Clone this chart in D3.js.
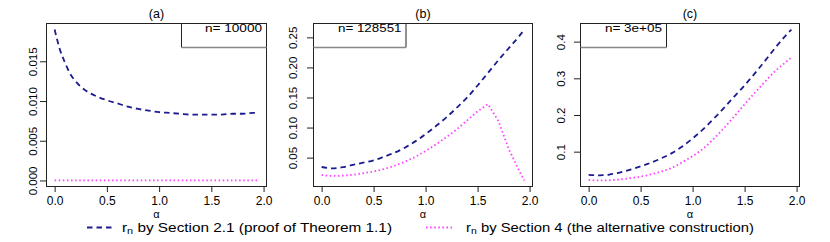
<!DOCTYPE html>
<html><head><meta charset="utf-8">
<script src="https://cdn.jsdelivr.net/npm/d3@7"></script>
<style>
html,body{margin:0;padding:0;background:#fff;}
svg text{font-family:"Liberation Sans",Arial,Helvetica,sans-serif;fill:#000;}
</style></head>
<body><svg id="chart" width="830" height="242"></svg>
<script>
// ---- data ----
const alpha = [0,0.05,0.1,0.15,0.2,0.25,0.3,0.4,0.5,0.6,0.7,0.8,0.9,1.0,1.1,1.2,1.3,1.4,1.5,1.6,1.7,1.8,1.9,1.95];
const panelTitles = ["(a)","(b)","(c)"];
const panelN = ["n= 10000","n= 128551","n= 3e+05"];
const aSection21 = [0.0190,0.0165,0.0148,0.0134,0.0125,0.0118,0.0113,0.0106,0.0101,0.0097,0.0093,0.0090,0.0088,0.0086,0.0085,0.0084,0.0083,0.0083,0.0083,0.0083,0.0084,0.0084,0.0085,0.0085];
const aSection4  = [0,0,0,0,0,0,0,0,0,0,0,0,0,0,0,0,0,0,0,0,0,0,0,0];
const bSection21 = [0.0344,0.0330,0.0322,0.0328,0.0340,0.0358,0.0378,0.0415,0.0455,0.0515,0.0580,0.0665,0.0770,0.0890,0.1025,0.1170,0.1330,0.1500,0.1700,0.1910,0.2120,0.2320,0.2520,0.2630];
const bSection4  = [0.0212,0.0200,0.0196,0.0195,0.0200,0.0207,0.0215,0.0240,0.0268,0.0310,0.0365,0.0430,0.0510,0.0610,0.0720,0.0840,0.0970,0.1120,0.1270,0.1390,0.1110,0.0640,0.0280,0.0120];
const cSection21 = [0.037,0.036,0.0355,0.036,0.0375,0.040,0.043,0.051,0.060,0.070,0.082,0.096,0.114,0.136,0.161,0.189,0.219,0.250,0.281,0.314,0.349,0.385,0.418,0.433];
const cSection4  = [0.023,0.022,0.0215,0.0215,0.022,0.023,0.024,0.028,0.032,0.038,0.046,0.056,0.071,0.088,0.108,0.134,0.164,0.196,0.229,0.261,0.292,0.321,0.345,0.357];
const xTicks = [0,0.5,1,1.5,2];
const yTicksA = [0,0.005,0.010,0.015];
const yTicksB = [0.05,0.10,0.15,0.20,0.25];
const yTicksC = [0.1,0.2,0.3,0.4];
const yTickFmt = [d3.format(".3f"), d3.format(".2f"), d3.format(".1f")];
const legendLabels = ["by Section 2.1 (proof of Theorem 1.1)","by Section 4 (the alternative construction)"];

// ---- layout ----
const svg = d3.select("#chart");
const panels = [
  {left:46.5, right:266.5, s21:aSection21, s4:aSection4, yt:yTicksA, legendRight:true, legW:85, yLabX:33},
  {left:313.5, right:532.5, s21:bSection21, s4:bSection4, yt:yTicksB, legendRight:false, legW:92.5, yLabX:292.5},
  {left:580.5, right:799.5, s21:cSection21, s4:cSection4, yt:yTicksC, legendRight:false, legW:86, yLabX:561}
];
const plotTop = 23.5, plotBottom = 186.5;
const colDash = "#1c1c8f", colDot = "#ff3cff";
const FONT = '"Liberation Sans",Arial,sans-serif';

function pad(ext){ const r = ext[1]-ext[0]; return [ext[0]-0.04*r, ext[1]+0.04*r]; }

panels.forEach((p,i)=>{
  const x = d3.scaleLinear().domain(pad(d3.extent(alpha))).range([p.left,p.right]);
  const y = d3.scaleLinear().domain(pad(d3.extent(p.s21.concat(p.s4)))).range([plotBottom,plotTop]);
  const g = svg.append("g");

  const line21 = d3.line().x((d,k)=>x(alpha[k])).y(d=>y(d)).curve(d3.curveMonotoneX);
  const line4 = d3.line().x((d,k)=>x(alpha[k])).y(d=>y(d)).curve(i===1?d3.curveLinear:d3.curveMonotoneX);
  g.append("path").attr("d",line4(p.s4)).attr("fill","none").attr("stroke",colDot)
    .attr("stroke-width",1.8).attr("stroke-dasharray","1.5,2.6");
  g.append("path").attr("d",line21(p.s21)).attr("fill","none").attr("stroke",colDash)
    .attr("stroke-width",1.8).attr("stroke-dasharray","5.5,4");

  g.append("rect").attr("x",p.left).attr("y",plotTop).attr("width",p.right-p.left).attr("height",plotBottom-plotTop)
    .attr("fill","none").attr("stroke","#222").attr("stroke-width",1);

  const xa = g.append("g").attr("transform",`translate(0,${plotBottom})`)
    .call(d3.axisBottom(x).tickValues(xTicks).tickFormat(d3.format(".1f")).tickSize(5.5).tickPadding(4.5));
  xa.select(".domain").remove();
  xa.selectAll("line").attr("stroke","#222");
  xa.selectAll("text").attr("font-size","12px").attr("dy","0.71em").attr("font-family",FONT);

  const ya = g.append("g").attr("transform",`translate(${p.left},0)`)
    .call(d3.axisLeft(y).tickValues(p.yt).tickFormat(yTickFmt[i]).tickSize(6.5).tickPadding(0));
  ya.select(".domain").remove();
  ya.selectAll("line").attr("stroke","#222");
  ya.selectAll("text").remove();
  ya.selectAll(".tick").append("text")
    .attr("transform",`translate(${p.yLabX-p.left},0) rotate(-90)`)
    .attr("text-anchor","middle").attr("dy","0.36em")
    .attr("font-size","11.5px").attr("fill","#000").attr("font-family",FONT)
    .text(d=>yTickFmt[i](d));

  const cx = (p.left+p.right)/2;
  g.append("text").attr("x",cx).attr("y",18).attr("text-anchor","middle")
    .attr("font-size","12.5px").text(panelTitles[i]);
  g.append("text").attr("x",cx).attr("y",218).attr("text-anchor","middle")
    .attr("font-size","11px").text("α");

  const lx0 = p.legendRight ? p.right-p.legW : p.left;
  const lx1 = lx0 + p.legW;
  g.append("line").attr("x1",lx0).attr("x2",lx0).attr("y1",plotTop).attr("y2",47.5).attr("stroke","#222");
  g.append("line").attr("x1",lx1).attr("x2",lx1).attr("y1",plotTop).attr("y2",47.5).attr("stroke","#222");
  g.append("line").attr("x1",lx0).attr("x2",lx1).attr("y1",47.5).attr("y2",47.5).attr("stroke","#888").attr("stroke-width",1.6);
  const targetW = [57,63.5,57][i];
  g.append("text").attr("x",lx1-4.5).attr("y",32).attr("text-anchor","end")
    .attr("font-size","11.5px").attr("textLength",targetW).attr("lengthAdjust","spacingAndGlyphs").text(panelN[i]);
});

const leg = [
  {x0:87, x1:115, tx:122, tw:270, col:colDash, dash:"5.5,4"},
  {x0:426, x1:452, tx:466, tw:288, col:colDot, dash:"1.5,2.6"}
];
leg.forEach((l,k)=>{
  svg.append("line").attr("x1",l.x0).attr("x2",l.x1).attr("y1",227.5).attr("y2",227.5)
    .attr("stroke",l.col).attr("stroke-width",1.8).attr("stroke-dasharray",l.dash);
  const t = svg.append("text").attr("x",l.tx).attr("y",231.5).attr("font-size","12px")
    .attr("textLength",l.tw).attr("lengthAdjust","spacingAndGlyphs");
  t.append("tspan").text("r");
  t.append("tspan").attr("font-size","8.5px").attr("dy","2.5").text("n");
  t.append("tspan").attr("dy","-2.5").text(" " + legendLabels[k]);
});
</script></body></html>
